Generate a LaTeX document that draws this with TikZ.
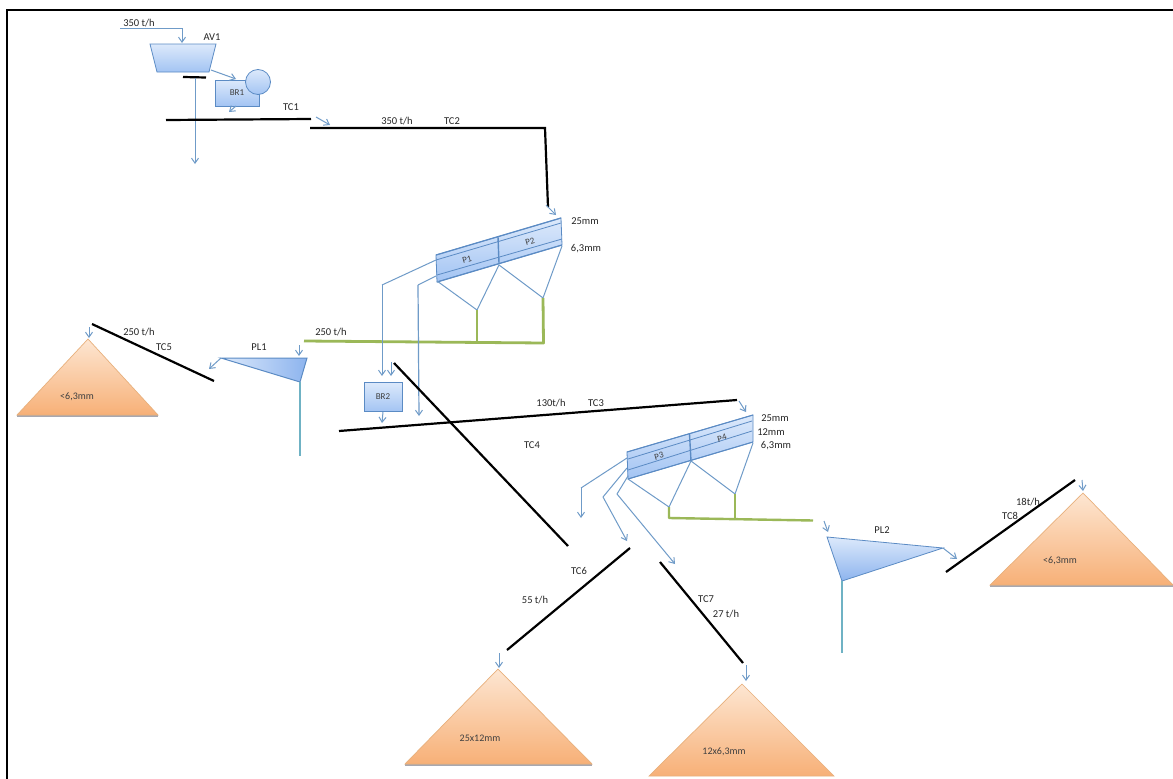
\documentclass[tikz,border=0pt]{standalone}
\usepackage{fontspec}
\setmainfont{Carlito}
\usetikzlibrary{arrows.meta}
\definecolor{flow}{HTML}{6F9BC8}
\definecolor{edgeb}{HTML}{5B8BC4}
\definecolor{fillb}{HTML}{A3C4F3}
\definecolor{fillbl}{HTML}{DCE9FB}
\definecolor{fillbd}{HTML}{8DB4EE}
\definecolor{orangeT}{HTML}{FDE6D2}
\definecolor{orangeB}{HTML}{F7B077}
\definecolor{orangeE}{HTML}{E8B07C}
\definecolor{greenb}{HTML}{9BB858}
\definecolor{tealb}{HTML}{6FB2C4}
\definecolor{pileshadow}{HTML}{A8A8B0}
\tikzset{
  x=1pt,y=-1pt,
  flowline/.style={draw=flow,line width=1pt,-{Straight Barb[length=5pt,width=7pt,line width=1pt]}},
  flowplain/.style={draw=flow,line width=1pt},
  belt/.style={draw=black,line width=2.2pt},
  greenline/.style={draw=greenb,line width=2.8pt},
  tealline/.style={draw=tealb,line width=2.4pt},
  unitbox/.style={draw=edgeb,line width=0.8pt,top color=fillbl,bottom color=fillb},
  pile/.style={draw=orangeE,line width=0.7pt,top color=orangeT,bottom color=orangeB},
  baseline shadow/.style={draw=pileshadow,line width=1.2pt},
  lab/.style={font=\fontsize{10.5}{12}\selectfont,text=black!85,inner sep=0pt},
  small/.style={font=\fontsize{10}{12}\selectfont,text=black!75,inner sep=0pt},
  tiny/.style={font=\fontsize{9}{10}\selectfont,text=black!75,inner sep=0pt},
  screenline/.style={draw=edgeb,line width=0.8pt},
}
\begin{document}
\begin{tikzpicture}
\useasboundingbox (0,0) rectangle (1173,779);
\fill[white] (0,0) rectangle (1173,779);
% frame
\draw[black,line width=2.4pt] (7,779) -- (7,10) -- (1173,10);
% AV1
\coordinate (feedS) at (120,28);
\coordinate (feedK) at (182,28);
\coordinate (av1top) at (182,43);
\draw[flowplain] (feedS) -- (feedK);
\draw[flowline] (feedK) -- (av1top);
\path[unitbox] (150,44) -- (216,44) -- (209,72) -- (157,72) -- cycle;
\node[lab] at (212,37) {AV1};
\node[lab] at (139,23) {350 t/h};
% BR1
\node[unitbox,minimum width=44pt,minimum height=26pt,inner sep=0pt,tiny] (br1) at (237,93) {BR1};
\node[circle,unitbox,minimum size=25pt,inner sep=0pt] (mot) at (258,82) {};
\coordinate (a1) at (211,70);
\coordinate (a1e) at (236,79);
\draw[flowline] (a1) -- (a1e);
\coordinate (br1o) at (236,106);
\coordinate (br1e) at (229,112);
\draw[flowline] (br1o) -- (br1e);
% grizzly
\coordinate (g1) at (183,77);\coordinate (g2) at (206,77.5);
\draw[belt] (g1) -- (g2);
\coordinate (dn1) at (195,78);\coordinate (dn2) at (195,164);
\draw[flowline] (dn1) -- (dn2);
% TC1 TC2
\coordinate (tc1a) at (166,120);\coordinate (tc1b) at (311,119);
\draw[belt] (tc1a) -- (tc1b);
\node[lab] at (291,107) {TC1};
\coordinate (j1) at (316,117);\coordinate (j2) at (330,125);
\draw[flowline] (j1) -- (j2);
\coordinate (tc2a) at (310,128);\coordinate (tc2b) at (545,128);\coordinate (tc2c) at (548,207);
\draw[belt] (tc2a) -- (tc2b) -- (tc2c);
\node[lab] at (397,121) {350 t/h};
\node[lab] at (452,121) {TC2};
\coordinate (p2in) at (546,205);\coordinate (p2ine) at (556,215);
\draw[flowline] (p2in) -- (p2ine);
% P1 P2
\path[unitbox] (436,255) -- (561,218) -- (562,245) -- (437,282) -- cycle;
\draw[screenline,line width=1.2pt] (436,255) -- (561,218) (437,282) -- (562,245);
\draw[screenline] (436,260) -- (561,223);
\draw[screenline] (437,275) -- (562,239);
\draw[screenline,line width=1.4pt] (498,237) -- (499,263);
\node[tiny,rotate=16] at (467,259.5) {P1};
\node[tiny,rotate=16] at (530,241.5) {P2};
\node[lab] at (585,221) {25mm};
\node[lab] at (586,249) {6,3mm};
\coordinate (pa) at (437,281);\coordinate (pb) at (477,310);\coordinate (pc) at (499,265);\coordinate (pd) at (543,298);\coordinate (pe) at (562,246);
\draw[flowplain] (pa) -- (pb) -- (pc) -- (pd) -- (pe);
\coordinate (ga) at (304,341);\coordinate (gb) at (543.5,343);
\draw[greenline,line join=round] (ga) -- (gb) -- (pd);
\draw[greenline] (477,343) -- (pb);
\node[lab] at (331,332) {250 t/h};
% overs
\coordinate (o1) at (436,260);\coordinate (o2) at (382,285);\coordinate (o3) at (382,376);
\draw[flowplain] (o1) -- (o2);
\draw[flowline] (o2) -- (o3);
\coordinate (u1) at (436,276);\coordinate (u2) at (418,285);\coordinate (u3) at (419,416);
\draw[flowplain] (u1) -- (u2);
\draw[flowline,line width=1.2pt] (u2) -- (u3);
\coordinate (i1) at (391,362);\coordinate (i2) at (391,376);
\draw[flowline] (i1) -- (i2);
% BR2
\node[unitbox,minimum width=38pt,minimum height=29pt,inner sep=0pt,tiny] (br2) at (383,397) {BR2};
\coordinate (b2e) at (382,423);
\draw[flowline] (br2.south) -- (b2e);
% TC3 TC4
\coordinate (tc3a) at (339,431);\coordinate (tc3b) at (737,400);
\draw[belt] (tc3a) -- (tc3b);
\node[lab] at (551,403) {130t/h};
\node[lab] at (596,403) {TC3};
\coordinate (tc4a) at (394,363);\coordinate (tc4b) at (568,546);
\draw[belt] (tc4a) -- (tc4b);
\node[lab] at (532,445) {TC4};
\coordinate (j3) at (739,401);\coordinate (j3e) at (746,412);
\draw[flowline] (j3) -- (j3e);
% P3 P4
\path[unitbox] (627,452) -- (753,415) -- (753,442) -- (628,479) -- cycle;
\draw[screenline,line width=1pt] (627,452) -- (753,415) (628,479) -- (753,442);
\draw[screenline] (628,459) -- (752,421);
\draw[screenline] (628,470) -- (752,431);
\draw[screenline,line width=1.4pt] (689.5,434) -- (691,461);
\node[tiny,rotate=16] at (659,456) {P3};
\node[tiny,rotate=16] at (722,438) {P4};
\node[lab] at (775,418) {25mm};
\node[lab] at (771,432) {12mm};
\node[lab] at (776,446) {6,3mm};
\coordinate (qa) at (628,479);\coordinate (qb) at (669,507);\coordinate (qc) at (691,461);\coordinate (qd) at (735,494);\coordinate (qe) at (753,443);
\draw[flowplain] (qa) -- (qb) -- (qc) -- (qd) -- (qe);
\coordinate (gc) at (813,520.5);\coordinate (gd) at (669,518);
\draw[greenline,line width=2.4pt,line join=round] (qb) -- (gd) -- (gc);
\draw[greenline,line width=2.4pt] (735,520) -- (qd);
% outputs P3
\coordinate (s1) at (627,458);\coordinate (s2) at (581,488);\coordinate (s3) at (581,518);
\draw[flowplain] (s1) -- (s2);\draw[flowline] (s2) -- (s3);
\coordinate (t1) at (627,468);\coordinate (t2) at (603,497);\coordinate (t3) at (627,541);
\draw[flowplain] (t1) -- (t2);\draw[flowline] (t2) -- (t3);
\coordinate (v1) at (628,476);\coordinate (v2) at (617,494);\coordinate (v3) at (675,564);
\draw[flowplain] (v1) -- (v2);\draw[flowline] (v2) -- (v3);
% TC6
\coordinate (tc6a) at (507,650);\coordinate (tc6b) at (630,548);
\draw[belt] (tc6a) -- (tc6b);
\node[lab] at (579,571) {TC6};
\node[lab] at (535,600) {55 t/h};
\coordinate (tc7a) at (660,562);\coordinate (tc7b) at (743,663);
\draw[belt] (tc7a) -- (tc7b);
\node[lab] at (706,599) {TC7};
\node[lab] at (726,614) {27 t/h};
\coordinate (r1) at (499,653);\coordinate (r1e) at (499,668);
\draw[flowline] (r1) -- (r1e);
\draw[baseline shadow] (405,765) -- (592,765);
\path[pile] (498,669) -- (592,764) -- (405,764) -- cycle;
\node[small] at (480,738) {25x12mm};
\coordinate (r2) at (746,665);\coordinate (r2e) at (746,681);
\draw[flowline] (r2) -- (r2e);
\path[pile] (742,684) -- (834,776) -- (649,776) -- cycle;
\node[small] at (724,752) {12x6,3mm};
% PL1
\coordinate (pl1i) at (299,345);\coordinate (pl1ie) at (299,356);
\draw[flowline] (pl1i) -- (pl1ie);
\path[draw=edgeb,line width=1pt,left color=fillbl,right color=fillbd] (221,358) -- (307,358) -- (300,382) -- cycle;
\node[lab] at (259,347) {PL1};
\coordinate (pt1) at (300,382);\coordinate (pt1e) at (300,456);
\draw[tealline] (pt1) -- (pt1e);
\coordinate (l1) at (221,358);\coordinate (l2) at (209,369);
\draw[flowline] (l1) -- (l2);
% TC5
\coordinate (tc5a) at (92,324);\coordinate (tc5b) at (214,381);
\draw[belt] (tc5a) -- (tc5b);
\node[lab] at (139,332) {250 t/h};
\node[lab] at (164,347) {TC5};
\coordinate (r3) at (89,327);\coordinate (r3e) at (89,338);
\draw[flowline] (r3) -- (r3e);
\draw[baseline shadow] (17,416) -- (158,416);
\path[pile] (88,339) -- (158,415) -- (17,415) -- cycle;
\node[small] at (77,397) {<6,3mm};
% PL2
\coordinate (pl2i) at (824,521);\coordinate (pl2ie) at (828,532);
\draw[flowline] (pl2i) -- (pl2ie);
\path[draw=edgeb,line width=0.8pt,top color=fillbl,bottom color=fillbd] (827,537) -- (943,548) -- (842,581) -- cycle;
\node[lab] at (882,530) {PL2};
\coordinate (pt2) at (842,581);\coordinate (pt2e) at (842,653);
\draw[tealline] (pt2) -- (pt2e);
\coordinate (m1) at (943,548);\coordinate (m2) at (957,559);
\draw[flowline] (m1) -- (m2);
% TC8
\coordinate (tc8a) at (946,572);\coordinate (tc8b) at (1075,480);
\draw[belt] (tc8a) -- (tc8b);
\node[lab] at (1028,502) {18t/h};
\node[lab] at (1010,516) {TC8};
\coordinate (r4) at (1082,480);\coordinate (r4e) at (1083,491);
\draw[flowline] (r4) -- (r4e);
\draw[baseline shadow] (990,586) -- (1173,586);
\path[pile] (1083,493) -- (1173,585) -- (990,585) -- cycle;
\node[small] at (1060,561) {<6,3mm};
\end{tikzpicture}
\end{document}
